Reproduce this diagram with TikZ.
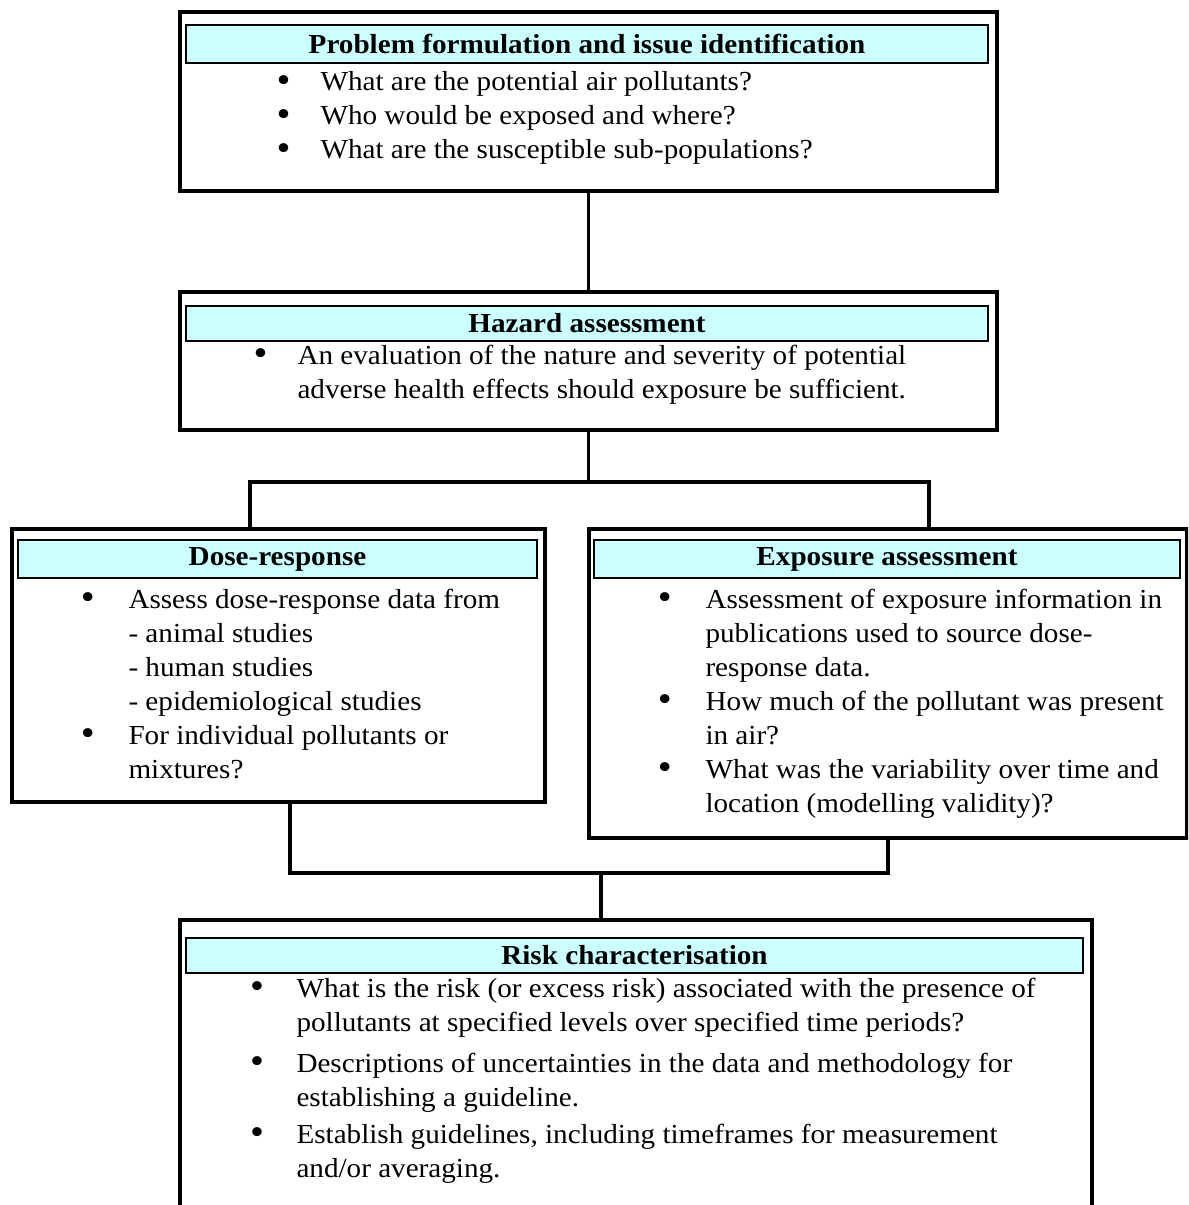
\documentclass[tikz,border=0pt]{standalone}
\usepackage{fontspec}
\setmainfont{Liberation Serif}[FakeStretch=1.06]
\usetikzlibrary{calc}

\definecolor{headcyan}{HTML}{CCFFFF}
\newcommand{\pix}{0.4pt}
\newcommand{\bul}[1][12pt]{\llap{\raisebox{-0.6pt}{\fontsize{15}{15}\selectfont\textbullet}\hspace{#1}}\ignorespaces}

\tikzset{
  stage/.style = {draw, line width = 1.5pt, inner sep = 0pt, anchor = north west},
  banner/.style = {draw, line width = 0.8pt, fill = headcyan, inner sep = 0pt,
                   font = \fontsize{11}{12}\selectfont\bfseries},
  body/.style = {anchor = base west, inner sep = 0pt, align = left,
                 font = \fontsize{11}{13.6}\selectfont},
  link/.style = {line width = 1.5pt}
}

\begin{document}
\begin{tikzpicture}[x = 0.4pt, y = -0.4pt]
            \path[use as bounding box] (0,0) rectangle (1188,1205);
            \clip (0,0) rectangle (1188,1205);
            % outer boxes
            \node[stage, minimum width = 817*\pix, minimum height = 179*\pix] (probA) at (178,10) {};
            \node[stage, minimum width = 817*\pix, minimum height = 138*\pix] (hazB) at (178,290) {};
            \node[stage, minimum width = 533*\pix, minimum height = 273*\pix] (doseC) at (10,527) {};
            \node[stage, minimum width = 598*\pix, minimum height = 309*\pix] (expoD) at (587,527) {};
            \node[stage, minimum width = 912*\pix, minimum height = 330*\pix] (riskE) at (178,918) {};
            % headings
            \node[banner, minimum width = 802*\pix, minimum height = 38*\pix] (probHead) at (587,44) {Problem formulation and issue identification};
            \node[banner, minimum width = 802*\pix, minimum height = 35*\pix] (hazHead) at (587,323) {Hazard assessment};
            \node[banner, minimum width = 519*\pix, minimum height = 38*\pix] (doseHead) at (277.5,559) {Dose-response};
            \node[banner, minimum width = 586*\pix, minimum height = 38*\pix] (expoHead) at (887,559) {Exposure assessment};
            \node[banner, minimum width = 897*\pix, minimum height = 35*\pix] (riskHead) at (634.5,955.5) {Risk characterisation};
            % bullet texts (placed at the baseline of their last line)
            \node[body] (probText) at (320,159) {\bul What are the potential air pollutants?\\
                \bul Who would be exposed and where?\\
                \bul What are the susceptible sub-populations?};
            \node[body] (hazText) at (297,398) {\bul An evaluation of the nature and severity of potential\\
                adverse health effects should exposure be sufficient.};
            \node[body] (doseText) at (128,778) {\bul[13.5pt] Assess dose-response data from\\
                - animal studies\\
                - human studies\\
                - epidemiological studies\\
                \bul[13.5pt] For individual pollutants or\\
                mixtures?};
            \node[body] (expoText) at (705,812) {\bul[13.5pt] Assessment of exposure information in\\
                publications used to source dose-\\
                response data.\\
                \bul[13.5pt] How much of the pollutant was present\\
                in air?\\
                \bul[13.5pt] What was the variability over time and\\
                location (modelling validity)?};
            \node[body] (riskText) at (296,1177) {\bul[13pt] What is the risk (or excess risk) associated with the presence of\\
                pollutants at specified levels over specified time periods?\\[2.8pt]
                \bul[13pt] Descriptions of uncertainties in the data and methodology for\\
                establishing a guideline.\\[1.2pt]
                \bul[13pt] Establish guidelines, including timeframes for measurement\\
                and/or averaging.};
            % connectors
            \coordinate (split) at ($(hazB.south)+(0,50)$);
            \coordinate (merge) at (601,873);
            \draw[link] (probA.south) -- (hazB.north);
            \draw[link] (hazB.south) -- (split);
            \draw[link] ($(doseC.north west)+(240,0)$) |- (split) -| ($(expoD.north west)+(342,0)$);
            \draw[link] ($(doseC.south west)+(280,0)$) |- (merge) -| (expoD.south);
            \draw[link] (merge) -- (merge |- riskE.north);
        \end{tikzpicture}
\end{document}
